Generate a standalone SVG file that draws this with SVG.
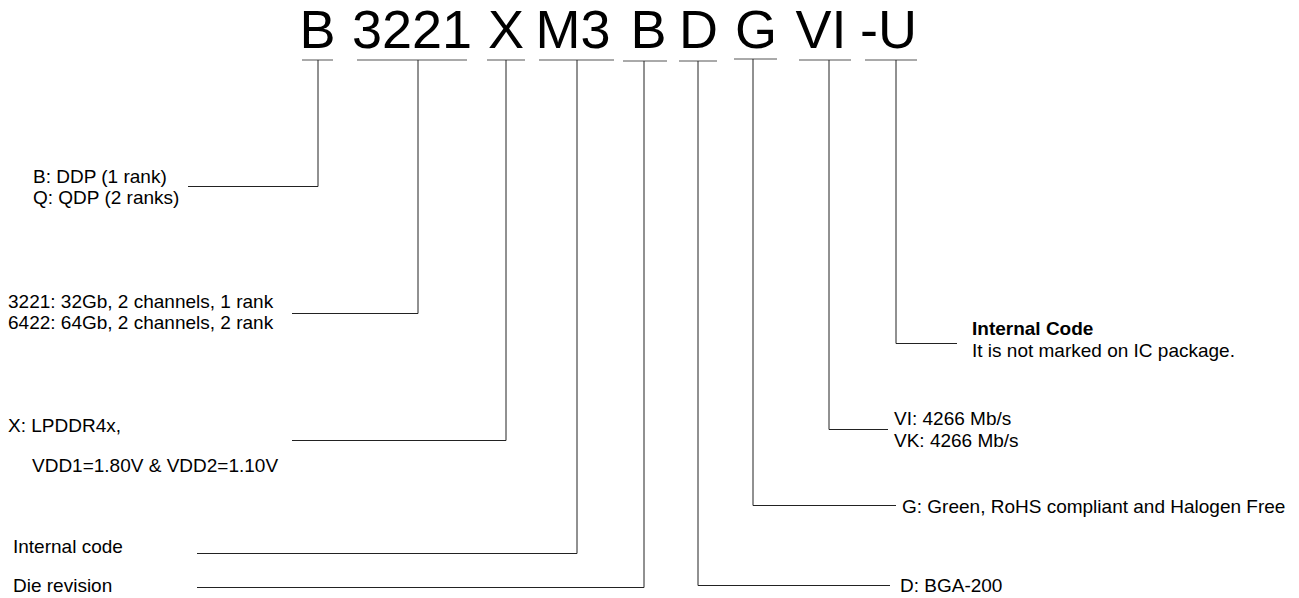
<svg xmlns="http://www.w3.org/2000/svg" width="1299" height="598" viewBox="0 0 1299 598">
  <style>
    .code { font-family: "Liberation Sans", Arial, sans-serif; font-size: 54px; fill: #000; text-anchor: middle; }
    .lbl { font-family: "Liberation Sans", Arial, sans-serif; font-size: 19px; fill: #000; }
    .bold { font-weight: bold; }
    .ul { stroke: #555; stroke-width: 1; fill: none; }
    .conn { stroke: #222; stroke-width: 1; fill: none; }
  </style>
  <rect width="1299" height="598" fill="#fff"/>

  <g id="part-number">
    <text class="code" x="317.5" y="48">B</text>
    <text class="code" x="412" y="48">3221</text>
    <text class="code" x="506" y="48">X</text>
    <text class="code" x="573" y="48">M3</text>
    <text class="code" x="648.5" y="48">B</text>
    <text class="code" x="698.5" y="48">D</text>
    <text class="code" x="756" y="48">G</text>
    <text class="code" x="821" y="48">VI</text>
    <text class="code" x="888.5" y="48">-U</text>
  </g>

  <g id="connectors">
    <line class="ul" x1="302" y1="60" x2="333" y2="60"/>
    <line class="ul" x1="357" y1="60" x2="467" y2="60"/>
    <line class="ul" x1="487" y1="60" x2="525" y2="60"/>
    <line class="ul" x1="539" y1="60" x2="614" y2="60"/>
    <line class="ul" x1="623" y1="61" x2="667" y2="61"/>
    <line class="ul" x1="679" y1="61" x2="717" y2="61"/>
    <line class="ul" x1="734" y1="59" x2="777" y2="59"/>
    <line class="ul" x1="799" y1="60" x2="851" y2="60"/>
    <line class="ul" x1="865" y1="60" x2="917" y2="60"/>

    <path class="conn" d="M318,60 V186.5 H188"/>
    <path class="conn" d="M418,60 V313.5 H292"/>
    <path class="conn" d="M506,60 V440.5 H292"/>
    <path class="conn" d="M577,60 V553.5 H197"/>
    <path class="conn" d="M644,61 V587.5 H197"/>
    <path class="conn" d="M698,61 V585.5 H890"/>
    <path class="conn" d="M753,59 V505.5 H896"/>
    <path class="conn" d="M829,60 V429.5 H888"/>
    <path class="conn" d="M896,60 V343.5 H957"/>
  </g>

  <g id="label-package-type">
    <text class="lbl" x="33" y="183">B: DDP (1 rank)</text>
    <text class="lbl" x="33" y="204">Q: QDP (2 ranks)</text>
  </g>
  <g id="label-density">
    <text class="lbl" x="8" y="308">3221: 32Gb, 2 channels, 1 rank</text>
    <text class="lbl" x="8" y="329">6422: 64Gb, 2 channels, 2 rank</text>
  </g>
  <g id="label-interface">
    <text class="lbl" x="8" y="432">X: LPDDR4x,</text>
    <text class="lbl" x="32" y="472">VDD1=1.80V &amp; VDD2=1.10V</text>
  </g>
  <g id="label-internal-code">
    <text class="lbl" x="13" y="553">Internal code</text>
  </g>
  <g id="label-die-revision">
    <text class="lbl" x="13" y="592">Die revision</text>
  </g>
  <g id="label-package">
    <text class="lbl" x="900" y="592">D: BGA-200</text>
  </g>
  <g id="label-green">
    <text class="lbl" x="902" y="513">G: Green, RoHS compliant and Halogen Free</text>
  </g>
  <g id="label-speed">
    <text class="lbl" x="894" y="425">VI: 4266 Mb/s</text>
    <text class="lbl" x="894" y="447">VK: 4266 Mb/s</text>
  </g>
  <g id="label-internal-code-u">
    <text class="lbl bold" x="972" y="335">Internal Code</text>
    <text class="lbl" x="972" y="357">It is not marked on IC package.</text>
  </g>
</svg>
